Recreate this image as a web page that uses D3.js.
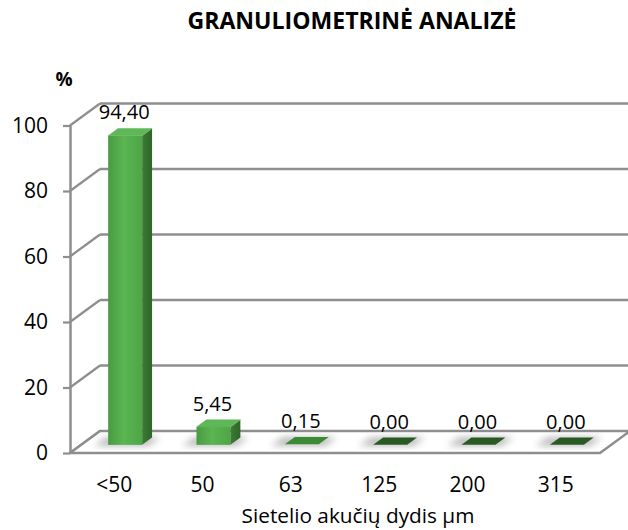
<!DOCTYPE html>
<html>
<head>
<meta charset="utf-8">
<script src="https://cdn.jsdelivr.net/npm/d3@7"></script>
<style>
  html, body { margin: 0; padding: 0; background: #fff; }
  svg { display: block; }
  text { font-family: "Open Sans", "Noto Sans", sans-serif; fill: #000; }
</style>
</head>
<body>
<script>
const categories = ["<50", "50", "63", "125", "200", "315"];
const values = [94.40, 5.45, 0.15, 0.00, 0.00, 0.00];
const valueLabels = ["94,40", "5,45", "0,15", "0,00", "0,00", "0,00"];
const yTicks = [0, 20, 40, 60, 80, 100];
const titleText = "GRANULIOMETRINĖ ANALIZĖ";
const yUnit = "%";
const xTitle = "Sietelio akučių dydis µm";

const W = 628, H = 530;
const svg = d3.select("body").append("svg").attr("width", W).attr("height", H);
const defs = svg.append("defs");

// 3D depth offsets
const DX = 30, DY = -22;
const F0 = 0.37, F1 = 0.70; // bar depth fractions
const barW = 34, barShift = 11;

const x = d3.scaleBand().domain(categories).range([70, 600]);
const y = d3.scaleLinear().domain([0, 100]).range([453, 125.5]);

const gridColor = "#8e8e8e";

// gradients
const gFront = defs.append("linearGradient").attr("id", "gFront").attr("x1", "0").attr("x2", "1").attr("y1", "0").attr("y2", "0");
gFront.append("stop").attr("offset", "0").attr("stop-color", "#479b40");
gFront.append("stop").attr("offset", "0.45").attr("stop-color", "#5bb552");
gFront.append("stop").attr("offset", "1").attr("stop-color", "#4ea546");
const gSide = defs.append("linearGradient").attr("id", "gSide").attr("x1", "0").attr("x2", "1");
gSide.append("stop").attr("offset", "0").attr("stop-color", "#3b7c34");
gSide.append("stop").attr("offset", "1").attr("stop-color", "#2f6529");
const blur = defs.append("filter").attr("id", "blur").attr("x", "-50%").attr("y", "-50%").attr("width", "200%").attr("height", "200%");
blur.append("feGaussianBlur").attr("stdDeviation", "3.5");

// back wall gridlines + side diagonals
const grid = svg.append("g");
yTicks.forEach(t => {
  const yy = y(t);
  if (t > 0) {
    grid.append("line").attr("x1", 70 + DX).attr("x2", W + 5).attr("y1", yy + DY).attr("y2", yy + DY)
      .attr("stroke", gridColor).attr("stroke-width", 2.5);
  }
  grid.append("line").attr("x1", 70).attr("y1", yy).attr("x2", 70 + DX).attr("y2", yy + DY)
    .attr("stroke", gridColor).attr("stroke-width", 2.2);
});
// floor
const floorPts = [[70, y(0)], [600, y(0)], [600 + DX, y(0) + DY], [70 + DX, y(0) + DY]];
grid.append("path").attr("d", d3.line()(floorPts) + "Z").attr("fill", "#fff")
  .attr("stroke", gridColor).attr("stroke-width", 2.5).attr("stroke-linejoin", "round");

// bars
const bars = svg.append("g");
categories.forEach((c, i) => {
  const v = values[i];
  const cx = x(c) + x.bandwidth() / 2 + barShift;
  const x0 = cx - barW / 2, x1 = cx + barW / 2;
  const base = y(0) + DY * F0;
  const dx = DX * (F1 - F0), dy = DY * (F1 - F0);
  const h = y(0) - y(v);
  const top = base - h;
  // floor shadow
  bars.append("path")
    .attr("d", d3.line()([[x0 - 14, base + 1], [x1 + 6, base + 1], [x1 + dx + 8, base + dy], [x0 + dx - 12, base + dy]]) + "Z")
    .attr("fill", "#7a7a7a").attr("opacity", 0.55).attr("filter", "url(#blur)");
  if (h > 1) {
    bars.append("rect").attr("x", x0).attr("y", top).attr("width", barW).attr("height", h)
      .attr("fill", "url(#gFront)");
    bars.append("path").attr("d", d3.line()([[x1, base], [x1 + dx, base + dy], [x1 + dx, top + dy], [x1, top]]) + "Z")
      .attr("fill", "url(#gSide)");
    bars.append("path").attr("d", d3.line()([[x0, top], [x1, top], [x1 + dx, top + dy], [x0 + dx, top + dy]]) + "Z")
      .attr("fill", "#5fb757").attr("stroke", "#5fb757").attr("stroke-width", 0.5).attr("stroke-linejoin", "round");
  } else {
    bars.append("path").attr("d", d3.line()([[x0, top], [x1, top], [x1 + dx, top + dy], [x0 + dx, top + dy]]) + "Z")
      .attr("fill", v > 0 ? "#3d8a35" : "#2a5a23");
  }
  bars.append("text").attr("x", cx - 1).attr("y", top + dy - 9)
    .attr("text-anchor", "middle").attr("font-size", 20).text(valueLabels[i]);
});

// y axis
const yAxis = d3.axisLeft(y).tickValues(yTicks).tickSize(7).tickSizeOuter(0).tickPadding(15);
const gy = svg.append("g").attr("transform", "translate(70,0)").call(yAxis);
gy.select(".domain").attr("stroke", gridColor).attr("stroke-width", 2.5);
gy.selectAll(".tick line").attr("stroke", gridColor).attr("stroke-width", 2.2);
gy.selectAll(".tick text").attr("font-size", 21).attr("font-family", "'Open Sans', sans-serif").attr("fill", "#000");

// x axis labels
const xAxis = d3.axisBottom(x).tickSize(0).tickPadding(24);
const gx = svg.append("g").attr("transform", `translate(0,${y(0)})`).call(xAxis);
gx.select(".domain").remove();
gx.selectAll(".tick text").attr("font-size", 21).attr("font-family", "'Open Sans', sans-serif").attr("fill", "#000");

// titles
const title = svg.append("text").attr("x", 352).attr("y", 29).attr("text-anchor", "middle")
  .attr("font-weight", "bold").attr("font-size", 21).text(titleText);
const tw = title.node().getComputedTextLength();
title.attr("font-size", 21 * 329 / tw);

svg.append("text").attr("x", 64).attr("y", 86).attr("text-anchor", "middle")
  .attr("font-weight", "bold").attr("font-size", 19).text(yUnit);

const xt = svg.append("text").attr("x", 358).attr("y", 523).attr("text-anchor", "middle")
  .attr("font-size", 21).text(xTitle);
const xw = xt.node().getComputedTextLength();
xt.attr("font-size", 21 * 233 / xw);
</script>
</body>
</html>
